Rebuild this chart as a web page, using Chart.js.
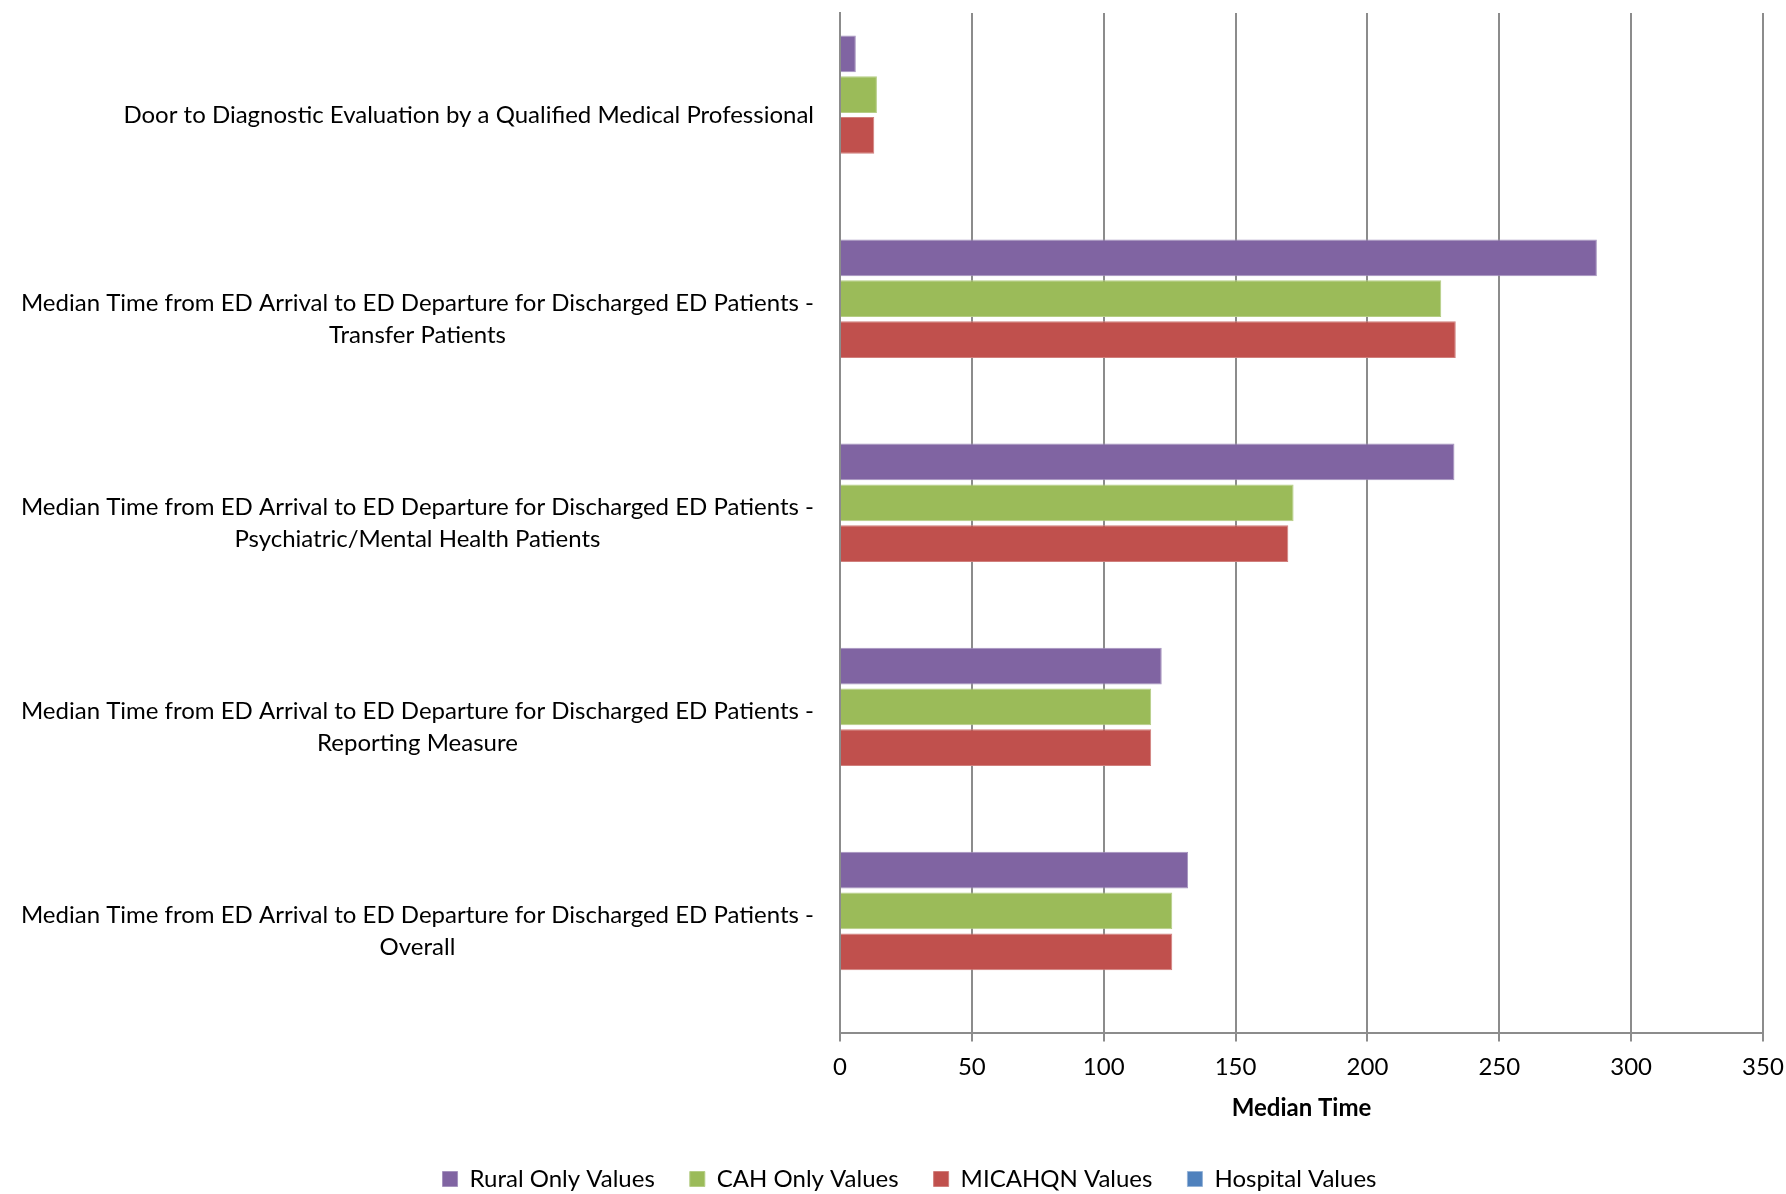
<!DOCTYPE html>
<html>
<head>
<meta charset="utf-8">
<script src="https://cdn.jsdelivr.net/npm/chart.js@4/dist/chart.umd.min.js"></script>
<style>
  body { margin: 0; background: #fff; }
  #wrap { width: 1786px; height: 1194px; }
</style>
</head>
<body>
<div id="wrap"><canvas id="chart"></canvas></div>
<script>
// Kategoriler (yukarıdan aşağıya)
const categories = [
    ['Door to Diagnostic Evaluation by a Qualified Medical Professional'],
    ['Median Time from ED Arrival to ED Departure for Discharged ED Patients -', 'Transfer Patients'],
    ['Median Time from ED Arrival to ED Departure for Discharged ED Patients -', 'Psychiatric/Mental Health Patients'],
    ['Median Time from ED Arrival to ED Departure for Discharged ED Patients -', 'Reporting Measure'],
    ['Median Time from ED Arrival to ED Departure for Discharged ED Patients -', 'Overall']
];

// Seri değerleri
const ruralOnly = [6, 287, 233, 122, 132];
const cahOnly = [14, 228, 172, 118, 126];
const micahqn = [13, 233.5, 170, 118, 126];
const hospital = [null, null, null, null, null];

const xTicks = [0, 50, 100, 150, 200, 250, 300, 350];

const fontName = 'Lato';
const fontSize = 24;
const gridGray = '#8c8c8c';
const plotLeft = 840;     // grafik alanının sol kenarı
const padLeft = 56;       // lejantı sağa kaydırmak için
const labelGap = 26;      // etiket ile eksen arası

// En uzun etiket satırının genişliği (ortalı satırlar için)
const measureCtx = document.createElement('canvas').getContext('2d');
measureCtx.font = fontSize + 'px ' + fontName;
const widestLine = Math.max(...categories.slice(1).flat().map(t => measureCtx.measureText(t).width));

const ctx = document.getElementById('chart').getContext('2d');
const chart = new Chart(ctx, {
    type: 'bar',
    data: {
        labels: categories,
        datasets: [
            { label: 'Rural Only Values', data: ruralOnly, backgroundColor: '#8064A2', borderColor: '#A593BE', borderWidth: 1 },
            { label: 'CAH Only Values', data: cahOnly, backgroundColor: '#9BBB59', borderColor: '#B5CD85', borderWidth: 1 },
            { label: 'MICAHQN Values', data: micahqn, backgroundColor: '#C0504D', borderColor: '#D07F7C', borderWidth: 1 },
            { label: 'Hospital Values', data: hospital, backgroundColor: '#4F81BD', borderColor: '#95B3D7', borderWidth: 1 }
        ]
    },
    options: {
        indexAxis: 'y',
        responsive: true,
        maintainAspectRatio: false,
        animation: false,
        devicePixelRatio: 1,
        layout: { padding: { top: 13, right: 23, left: padLeft, bottom: -7 } },
        datasets: { bar: { categoryPercentage: 0.8, barPercentage: 0.9 } },
        plugins: {
            tooltip: { enabled: false },
            legend: {
                position: 'bottom',
                labels: {
                    boxWidth: 15,
                    boxHeight: 15,
                    padding: 35,
                    color: '#000',
                    font: { family: fontName, size: fontSize }
                }
            }
        },
        scales: {
            x: {
                type: 'linear',
                min: 0,
                max: 350,
                afterBuildTicks: (scale) => { scale.ticks = xTicks.map(v => ({ value: v })); },
                grid: { color: gridGray, lineWidth: 2, drawTicks: true, tickLength: 8, tickColor: gridGray },
                border: { color: gridGray, width: 2 },
                ticks: { color: '#000', padding: 11, font: { family: fontName, size: fontSize } },
                title: {
                    display: true,
                    text: 'Median Time',
                    color: '#000',
                    font: { family: fontName, size: fontSize, weight: 'bold' },
                    padding: { top: 2, bottom: 9 }
                },
                afterFit: (scale) => { scale.paddingLeft = 0; scale.paddingRight = 0; }
            },
            // iç eksen: ilk etiket, sağa yaslı
            y: {
                type: 'category',
                offset: true,
                weight: 0,
                grid: { display: false, drawTicks: false },
                border: { color: gridGray, width: 2 },
                ticks: {
                    color: '#000',
                    padding: labelGap,
                    crossAlign: 'near',
                    font: { family: fontName, size: fontSize, lineHeight: 1.33 },
                    callback: function (value, index) { return index === 0 ? this.getLabelForValue(value) : ''; }
                },
                afterFit: (scale) => { scale.width = plotLeft - padLeft; scale.paddingTop = 0; scale.paddingBottom = 0; }
            },
            // dış eksen (genişliği sıfır, yansıtılmış): iki satırlı etiketler, ortalı
            y2: {
                type: 'category',
                position: 'left',
                offset: true,
                weight: 10,
                grid: { display: false, drawTicks: false },
                border: { display: false },
                ticks: {
                    color: '#000',
                    mirror: true,
                    padding: plotLeft - padLeft - labelGap - widestLine,
                    crossAlign: 'center',
                    font: { family: fontName, size: fontSize, lineHeight: 1.33 },
                    callback: function (value, index) { return index === 0 ? '' : this.getLabelForValue(value); }
                },
                afterFit: (scale) => { scale.width = 0; scale.paddingTop = 0; scale.paddingBottom = 0; }
            }
        }
    }
});
</script>
</body>
</html>
